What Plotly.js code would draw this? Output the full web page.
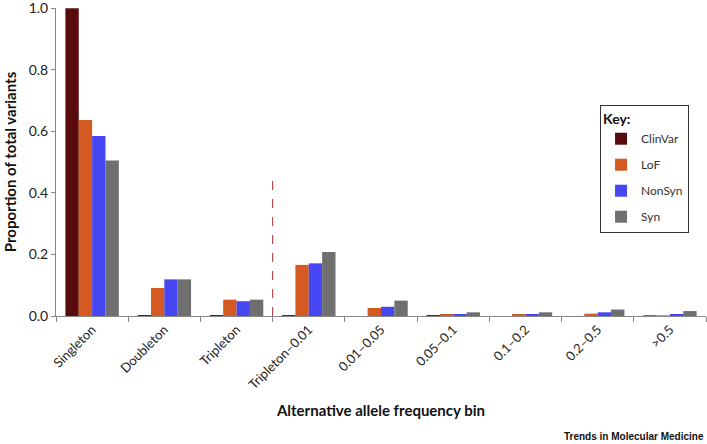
<!DOCTYPE html>
<html>
<head>
<meta charset="utf-8">
<script src="https://cdn.plot.ly/plotly-3.0.1.min.js"></script>
<style>html,body{margin:0;padding:0;background:#fff;}#chart{width:707px;height:444px;}</style>
</head>
<body>
<div id="chart"></div>
<script>
const categories = ["Singleton","Doubleton","Tripleton","Tripleton\u20130.01","0.01\u20130.05","0.05\u20130.1","0.1\u20130.2","0.2\u20130.5",">0.5"];
const clinVar = [1.0, 0.003, 0.003, 0.003, 0.0, 0.003, 0.0, 0.0, 0.002];
const loF     = [0.637, 0.091, 0.053, 0.166, 0.026, 0.0065, 0.0065, 0.0076, 0.002];
const nonSyn  = [0.585, 0.119, 0.048, 0.171, 0.030, 0.0065, 0.0065, 0.012, 0.0065];
const syn     = [0.505, 0.119, 0.053, 0.208, 0.050, 0.012, 0.012, 0.021, 0.016];
const seriesNames = ["ClinVar","LoF","NonSyn","Syn"];
const seriesColors = ["#5a0b0d","#d45a22","#4646f2","#6f6f6f"];
const seriesValues = [clinVar, loF, nonSyn, syn];
const yTicks = [0, 0.2, 0.4, 0.6, 0.8, 1.0];
const dividerHeight = 0.45;

const font = "Lato, 'Open Sans', 'Liberation Sans', sans-serif";
const traces = seriesValues.map((vals, i) => ({
  type: "bar",
  name: seriesNames[i],
  x: categories,
  y: vals,
  legendgroup: "g" + i,
  marker: {color: seriesColors[i], line: {width: 0}},
  hoverinfo: "x+y+name"
}));

const layout = {
  width: 707, height: 444,
  margin: {l: 56, r: 1, t: 8, b: 128},
  paper_bgcolor: "#fff", plot_bgcolor: "#fff",
  barmode: "group",
  bargap: 0.26, bargroupgap: 0,
  font: {family: font, color: "#222"},
  showlegend: true,
  legend: {
    x: 0.837, y: 0.685, xanchor: "left", yanchor: "top",
    bordercolor: "#333", borderwidth: 1, bgcolor: "#fff",
    font: {size: 12, color: "#333"},
    title: {text: "<b>Key:</b>", font: {size: 14, color: "#111"}},
    tracegroupgap: 7,
    itemwidth: 30
  },
  xaxis: {
    type: "category",
    tickangle: -45,
    ticks: "outside", ticklen: 5, tickcolor: "#888",
    tickson: "boundaries",
    showline: true, linecolor: "#888", linewidth: 1,
    showgrid: false, zeroline: false,
    tickfont: {size: 13, color: "#222"},
    title: {text: "<b>Alternative allele frequency bin</b>", font: {size: 15, color: "#111"}, standoff: 14}
  },
  yaxis: {
    range: [0, 1.0005],
    tickvals: yTicks,
    tickformat: ".1f",
    ticklabeloverflow: "allow",
    ticks: "outside", ticklen: 4, tickcolor: "#888",
    showline: true, linecolor: "#888", linewidth: 1,
    showgrid: false, zeroline: false,
    tickfont: {size: 14, color: "#222"},
    title: {text: "<b>Proportion of total variants</b>", font: {size: 15, color: "#111"}, standoff: 8}
  },
  shapes: [{
    type: "line", xref: "x", yref: "y",
    x0: 2.5, x1: 2.5, y0: 0, y1: dividerHeight,
    line: {color: "#b02828", width: 1, dash: "dash"}
  }],
  annotations: [{
    text: "<b>Trends in Molecular Medicine</b>",
    xref: "paper", yref: "paper", x: 1.0, y: -0.39,
    xanchor: "right", yanchor: "middle", showarrow: false,
    font: {family: "'Liberation Sans', sans-serif", size: 10, color: "#111"}
  }]
};

Plotly.newPlot("chart", traces, layout, {displayModeBar: false, staticPlot: true});
</script>
</body>
</html>
